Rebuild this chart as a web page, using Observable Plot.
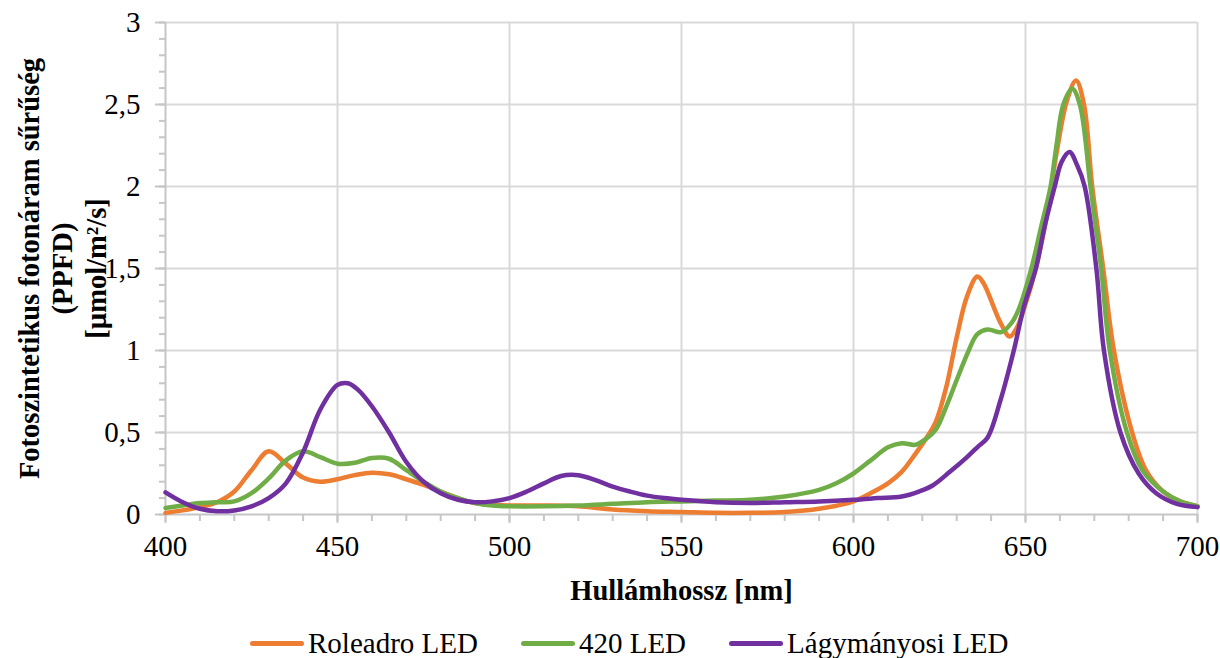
<!DOCTYPE html>
<html><head><meta charset="utf-8">
<script src="https://cdn.jsdelivr.net/npm/d3@7"></script>
<script src="https://cdn.jsdelivr.net/npm/@observablehq/plot@0.6"></script>
<style>
body{margin:0;background:#fff;font-family:"Liberation Serif","Tinos","Times New Roman","DejaVu Serif","Noto Serif",serif;}
#legend{display:flex;align-items:center;height:42px;padding-left:250px;font-size:29px;color:#000;box-sizing:border-box;}
.item{display:flex;align-items:center;margin-right:43px;white-space:nowrap;}
.sw{width:54px;height:5px;border-radius:3px;margin-right:4px;}
svg text{font-family:"Liberation Serif","Tinos","Times New Roman","DejaVu Serif","Noto Serif",serif;}
</style></head><body>
<div id="chart"></div><div id="legend"></div>
<script>
// Series names and colours
const seriesNames = ["Roleadro LED", "420 LED", "Lágymányosi LED"];
const seriesColors = ["#ED7D31", "#70AD47", "#7030A0"];

// Roleadro LED
const roleadroNm  = [400,405,410,415,420,425,430,435,440,445,450,455,460,465,470,475,480,485,490,495,500,510,520,530,540,550,560,570,580,590,600,605,610,614,618,621,624,627,630,633,636,637.8,642.7,645.4,647.5,649.5,653,656,659,662,664.7,667,669.4,672.6,675.7,681,685,690,695,700];
const roleadroVal = [0.01,0.025,0.045,0.075,0.14,0.27,0.385,0.31,0.225,0.2,0.215,0.24,0.255,0.245,0.215,0.18,0.14,0.1,0.07,0.06,0.055,0.055,0.05,0.03,0.02,0.015,0.01,0.01,0.015,0.035,0.08,0.13,0.19,0.26,0.37,0.46,0.57,0.78,1.08,1.33,1.451,1.41,1.17,1.085,1.14,1.25,1.5,1.8,2.2,2.52,2.646,2.5,2.0,1.5,1.0,0.5,0.27,0.14,0.08,0.05];

// 420 LED
const led420Nm  = [400,405,410,415,420,425,430,435,440,445,450,455,460,465,470,475,480,485,490,495,500,510,520,530,540,550,560,570,580,590,595,600,605,610,614,618,621,624,627,630,633.5,636,639,643,646,648,651.7,654.5,657.3,659,661,663.6,665.8,668.9,672,674.5,679.5,684,690,695,700];
const led420Val = [0.04,0.055,0.07,0.075,0.08,0.13,0.22,0.33,0.385,0.35,0.31,0.315,0.345,0.34,0.27,0.2,0.14,0.1,0.07,0.055,0.05,0.05,0.055,0.065,0.075,0.08,0.085,0.09,0.11,0.15,0.19,0.25,0.33,0.41,0.435,0.425,0.46,0.52,0.66,0.82,1.0,1.1,1.128,1.112,1.17,1.25,1.5,1.75,2.0,2.25,2.5,2.596,2.5,2.0,1.5,1.0,0.5,0.27,0.14,0.08,0.05];

// Lágymányosi LED
const lagyNm  = [400,405,410,415,420,425,430,435,440,445,450,453,456,460,465,470,475,480,485,490,495,500,505,510,515,520,525,530,535,540,545,550,560,570,580,590,600,607,614,619,623,628,633,636,639,642.7,646.6,649.5,653,655.5,658.5,660.5,662.8,665,667.2,670.6,672.8,677.6,682.9,688,694,700];
const lagyVal = [0.135,0.075,0.035,0.02,0.025,0.05,0.1,0.19,0.38,0.64,0.79,0.8,0.76,0.66,0.5,0.32,0.2,0.13,0.09,0.075,0.08,0.1,0.14,0.19,0.235,0.24,0.21,0.17,0.14,0.115,0.1,0.09,0.075,0.07,0.075,0.08,0.09,0.1,0.11,0.14,0.177,0.26,0.35,0.41,0.47,0.695,1.0,1.264,1.5,1.75,2.0,2.15,2.21,2.13,2.0,1.5,1.0,0.5,0.25,0.13,0.065,0.045];

// Axis ticks and labels
const xMajorTicks = [400,450,500,550,600,650,700];
const xMinorTicks = d3.range(400, 701, 10);
const yMajorTicks = [0,0.5,1,1.5,2,2.5,3];
const yMinorTicks = d3.range(0, 30.5, 1).map(d => d / 10);
const xTitle = "Hullámhossz [nm]";
const yTitle = "Fotoszintetikus fotonáram sűrűség\n(PPFD)\n[µmol/m²/s]";

const toRows = (nm, val) => nm.map((x, i) => ({x, y: val[i]}));
const series = [toRows(roleadroNm, roleadroVal), toRows(led420Nm, led420Val), toRows(lagyNm, lagyVal)];

const gridColor = "#d9d9d9";
const axisColor = "#c6c6c6";
const fmt = d => String(d).replace(".", ",");
const serif = "'Liberation Serif', Tinos, 'Times New Roman', 'DejaVu Serif', 'Noto Serif', serif";

const chart = Plot.plot({
  width: 1220,
  height: 622,
  marginLeft: 165,
  marginRight: 23,
  marginTop: 22,
  marginBottom: 108,
  style: {fontFamily: serif, fontSize: "29px", color: "#000", background: "#fff"},
  x: {domain: [400, 700]},
  y: {domain: [0, 3]},
  marks: [
    Plot.gridX(xMajorTicks.filter(d => d > 400), {stroke: gridColor, strokeOpacity: 1, strokeWidth: 2}),
    Plot.gridY(yMajorTicks.filter(d => d > 0), {stroke: gridColor, strokeOpacity: 1, strokeWidth: 2}),
    Plot.axisX(xMinorTicks, {tickSize: 7, tickFormat: () => "", stroke: axisColor, strokeWidth: 2, label: null}),
    Plot.axisX(xMajorTicks, {tickSize: 9, tickPadding: 12, tickFormat: fmt, stroke: axisColor, strokeWidth: 2, label: null, fontSize: 29}),
    Plot.axisY(yMinorTicks, {tickSize: 6, tickFormat: () => "", stroke: axisColor, strokeWidth: 2, label: null}),
    Plot.axisY(yMajorTicks, {tickSize: 10, tickPadding: 15, tickFormat: fmt, stroke: axisColor, strokeWidth: 2, label: null, fontSize: 29}),
    Plot.ruleX([400], {stroke: axisColor, strokeWidth: 2}),
    Plot.ruleY([0], {stroke: axisColor, strokeWidth: 2}),
    ...series.map((rows, i) => Plot.line(rows, {x: "x", y: "y", stroke: seriesColors[i], strokeWidth: 4.5, curve: "catmull-rom", strokeLinecap: "round", strokeLinejoin: "round"})),
    Plot.text([yTitle], {frameAnchor: "left", dx: -104, rotate: -90, fontWeight: "bold", fontSize: 28.5, lineHeight: 1.17, lineAnchor: "middle", textAnchor: "middle", fill: "#000"}),
    Plot.text([xTitle], {frameAnchor: "bottom", dy: 76, fontWeight: "bold", fontSize: 28.5, lineAnchor: "middle", textAnchor: "middle", fill: "#000"})
  ]
});
document.getElementById("chart").appendChild(chart);

const legend = document.getElementById("legend");
seriesNames.forEach((name, i) => {
  const item = document.createElement("div");
  item.className = "item";
  const sw = document.createElement("span");
  sw.className = "sw";
  sw.style.background = seriesColors[i];
  const label = document.createElement("span");
  label.textContent = name;
  item.appendChild(sw);
  item.appendChild(label);
  legend.appendChild(item);
});
</script>
</body></html>
